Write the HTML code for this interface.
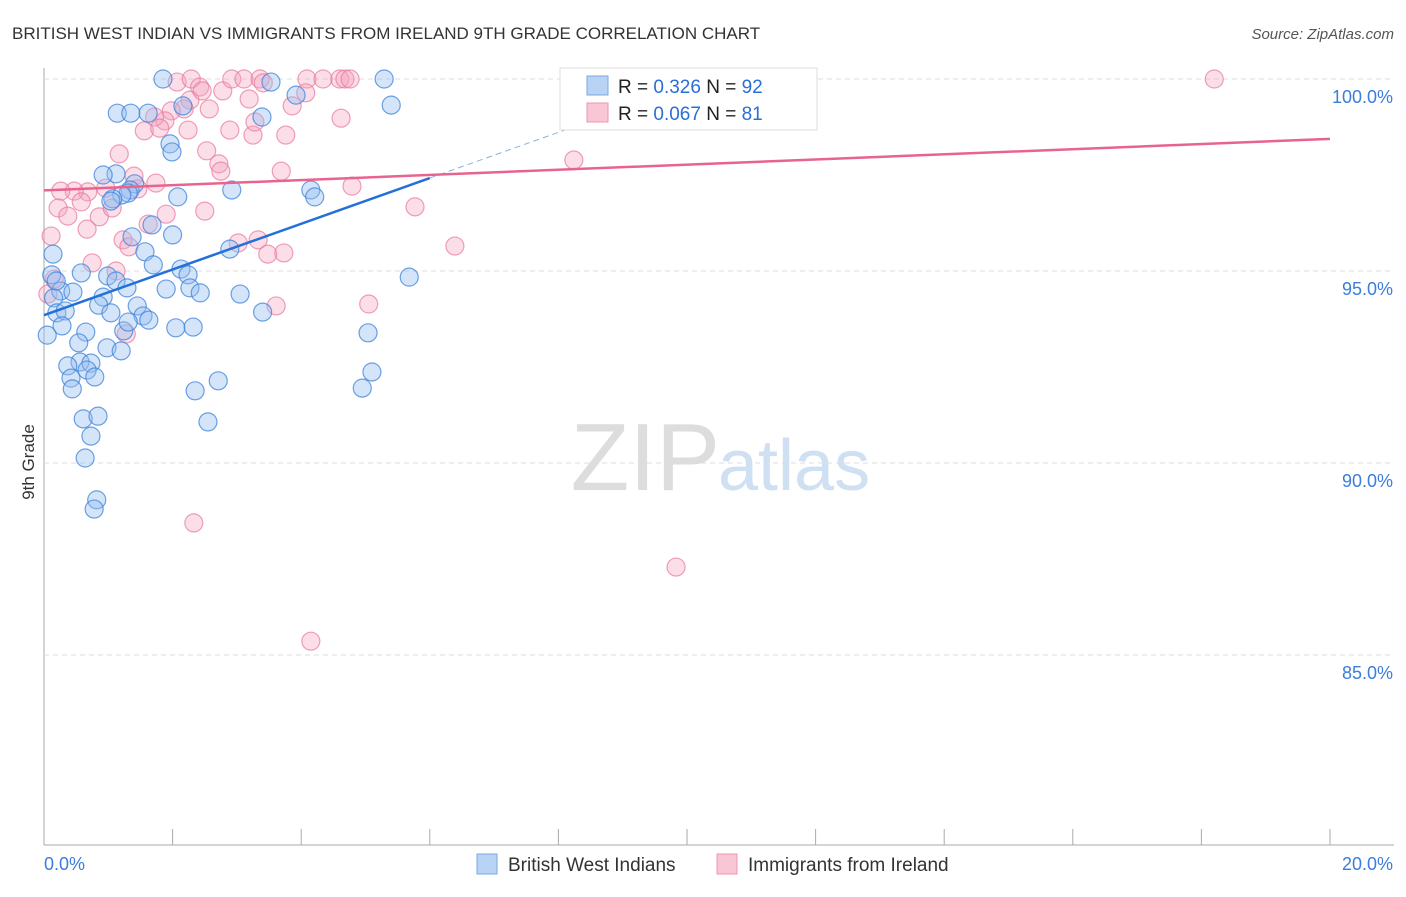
<!DOCTYPE html>
<html><head><meta charset="utf-8"><style>
body{margin:0;background:#fff;font-family:"Liberation Sans",sans-serif;}
svg text{font-family:"Liberation Sans",sans-serif;}
</style></head><body>
<svg id="c" width="1406" height="892">
<text x="12" y="39" font-size="17" fill="#333">BRITISH WEST INDIAN VS IMMIGRANTS FROM IRELAND 9TH GRADE CORRELATION CHART</text>
<text x="1394" y="39" font-size="15" fill="#555" text-anchor="end" font-style="italic">Source: ZipAtlas.com</text>
<text x="34" y="462" font-size="17" fill="#333" transform="rotate(-90 34 462)" text-anchor="middle">9th Grade</text>
<g id="grid"></g>
<text x="720" y="490" font-size="96" fill="#ddd" text-anchor="end" font-family="Liberation Serif">ZIP</text>
<text x="718" y="490" font-size="72" fill="#cfe0f3">atlas</text>
<g id="pts"></g>
<g id="lines"></g>
<g>
<rect x="560" y="68" width="257" height="62" fill="#fff" stroke="#ddd"/>
<rect x="587" y="76" width="21" height="19" fill="#b8d3f4" stroke="#7aaae6"/>
<rect x="587" y="103" width="21" height="19" fill="#f8c6d4" stroke="#ee95b0"/>
<text x="618" y="93" font-size="19" fill="#222">R = <tspan fill="#2a6fd6">0.326</tspan>   N = <tspan fill="#2a6fd6">92</tspan></text>
<text x="618" y="120" font-size="19" fill="#222">R = <tspan fill="#2a6fd6">0.067</tspan>   N = <tspan fill="#2a6fd6"> 81</tspan></text>
</g>
<g>
<rect x="477" y="854" width="20" height="20" fill="#b8d3f4" stroke="#7aaae6"/>
<text x="508" y="871" font-size="19" fill="#333">British West Indians</text>
<rect x="717" y="854" width="20" height="20" fill="#f8c6d4" stroke="#ee95b0"/>
<text x="748" y="871" font-size="19" fill="#333">Immigrants from Ireland</text>
</g>
</svg>
<script>
const blueX=[1.85,3.53,5.29,5.40,3.92,2.16,1.14,1.35,1.62,3.39,1.96,1.99,1.12,0.92,1.41,1.34,1.31,1.21,1.07,1.04,2.08,2.92,4.15,4.21,1.68,2.0,1.37,1.57,2.89,0.14,0.12,1.7,2.13,2.24,5.68,0.58,0.99,1.12,0.26,0.45,0.15,0.92,1.29,1.9,2.27,2.43,3.05,0.85,1.45,1.04,0.2,0.33,1.54,1.63,3.4,0.28,0.65,1.24,2.05,2.32,5.04,0.05,0.54,0.98,1.2,0.56,0.73,0.37,0.67,0.79,0.42,0.44,2.71,5.1,4.95,2.35,2.55,0.61,0.84,0.73,0.64,0.82,0.78,0.19,1.31];
const blueY=[100,99.92,100,99.32,99.58,99.3,99.11,99.11,99.11,99.01,98.31,98.1,97.53,97.5,97.27,97.11,97.03,96.98,96.88,96.82,96.93,97.11,97.11,96.93,96.2,95.94,95.89,95.5,95.57,95.44,94.9,95.16,95.05,94.9,94.84,94.95,94.87,94.74,94.48,94.45,94.3,94.32,94.56,94.53,94.56,94.43,94.4,94.11,94.09,93.91,93.91,93.96,93.83,93.72,93.93,93.57,93.41,93.44,93.52,93.54,93.39,93.33,93.13,93.0,92.92,92.63,92.6,92.53,92.42,92.24,92.21,91.93,92.14,92.37,91.95,91.88,91.07,91.15,91.22,90.7,90.13,89.04,88.8,94.74,93.67];
const pinkX=[2.07,2.29,2.42,2.27,2.46,2.78,2.92,3.11,3.36,3.41,3.19,2.57,2.18,1.98,1.88,1.72,1.56,1.8,2.24,2.53,2.89,3.25,3.76,3.86,4.09,4.34,4.6,4.68,4.76,4.07,4.62,3.28,3.69,4.79,5.77,6.39,5.05,3.61,8.24,11.18,18.2,9.83,4.15,2.33,1.17,1.4,1.74,1.46,0.96,0.68,0.47,0.26,0.58,0.86,0.22,0.37,1.06,1.9,2.5,1.62,1.23,1.32,2.72,2.75,3.02,3.33,3.48,3.73,0.75,1.12,0.67,0.11,0.16,1.28,0.06];
const pinkY=[99.92,100,99.79,99.45,99.69,99.69,100,100,100,99.9,99.48,99.22,99.22,99.17,98.91,99.01,98.65,98.72,98.67,98.13,98.67,98.54,98.54,99.3,100,100,100,100,100,99.64,98.98,98.88,97.6,97.21,96.67,95.65,94.14,94.09,97.89,100,100,87.29,85.36,88.44,98.05,97.47,97.29,97.14,97.16,97.06,97.08,97.08,96.8,96.41,96.64,96.43,96.64,96.48,96.56,96.22,95.81,95.63,97.79,97.6,95.73,95.81,95.44,95.47,95.21,95.0,96.09,95.91,94.79,93.36,94.4];
const yTicks=[100,95,90,85];
const yTickLabels=["100.0%","95.0%","90.0%","85.0%"];
const xTicks=[0,2,4,6,8,10,12,14,16,18,20];
const xEnds=["0.0%","20.0%"];
const blueLine=[93.85,0.595];
const pinkLine=[97.1,0.067];
const X=v=>44+v*64.3, Y=v=>79+(100-v)*38.4;
const NS="http://www.w3.org/2000/svg";
function mk(t,a,p){const e=document.createElementNS(NS,t);for(const k in a)e.setAttribute(k,a[k]);p.appendChild(e);return e;}
const g=document.getElementById('grid');
let ax=mk('line',{x1:44,y1:68,x2:44,y2:845,stroke:'#aaa'},g);


let bx=mk('line',{x1:44,y1:845,x2:1394,y2:845,stroke:'#aaa'},g);


yTicks.forEach((t,i)=>{
 const l=mk('line',{x1:44,x2:1394,y1:Y(t),y2:Y(t),stroke:'#ddd','stroke-dasharray':'5,4'},g);
 
 
 const tx=mk('text',{x:1393,y:Y(t)+24,'font-size':18,fill:'#3b7ddd','text-anchor':'end'},g);
 tx.textContent=yTickLabels[i];
 
 
});
xTicks.forEach(t=>{
 const l=mk('line',{x1:X(t),x2:X(t),y1:829,y2:845,stroke:'#aaa'},g);
 
 
});
let t0=mk('text',{x:44,y:870,'font-size':18,fill:'#3b7ddd'},g);t0.textContent=xEnds[0];


let t1=mk('text',{x:1393,y:870,'font-size':18,fill:'#3b7ddd','text-anchor':'end'},g);t1.textContent=xEnds[1];


const P=document.getElementById('pts');
pinkX.forEach((x,i)=>{
 const c=mk('circle',{cx:X(x),cy:Y(pinkY[i]),r:9,fill:'rgba(244,160,188,0.35)',stroke:'rgba(232,120,155,0.7)','stroke-width':1.2},P);
 
 
});
blueX.forEach((x,i)=>{
 const c=mk('circle',{cx:X(x),cy:Y(blueY[i]),r:9,fill:'rgba(150,190,240,0.4)',stroke:'rgba(60,130,220,0.75)','stroke-width':1.2},P);
 
 
});
const L=document.getElementById('lines');
let b1=mk('line',{x1:X(0),y1:Y(blueLine[0]),x2:X(6),y2:Y(blueLine[0]+6*blueLine[1]),stroke:'#2270d8','stroke-width':2.5},L);


let b2=mk('line',{x1:X(6),y1:Y(blueLine[0]+6*blueLine[1]),x2:X(8.2),y2:Y(blueLine[0]+8.2*blueLine[1]),stroke:'#8ab0e0','stroke-width':1,'stroke-dasharray':'6,4'},L);


let p1=mk('line',{x1:X(0),y1:Y(pinkLine[0]),x2:X(20),y2:Y(pinkLine[0]+20*pinkLine[1]),stroke:'#e8648f','stroke-width':2.5},L);


</script>
</body></html>
